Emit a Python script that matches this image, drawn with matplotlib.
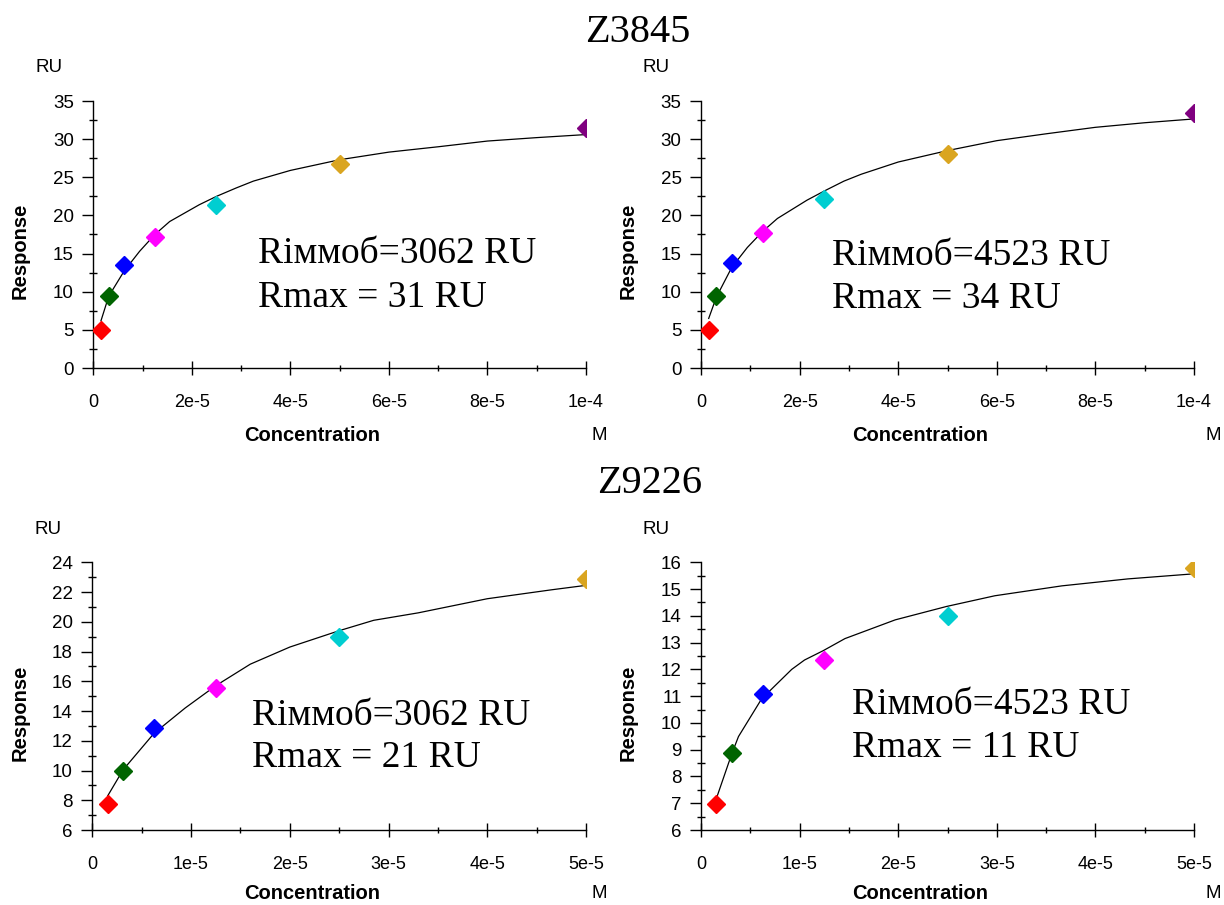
import matplotlib
matplotlib.use("Agg")
import matplotlib.pyplot as plt
from matplotlib.ticker import FixedLocator, FixedFormatter, MultipleLocator

# ---------------- data ----------------
conc_top = [1.5625e-6, 3.125e-6, 6.25e-6, 1.25e-5, 2.5e-5, 5e-5, 1e-4]
conc_bot = [1.5625e-6, 3.125e-6, 6.25e-6, 1.25e-5, 2.5e-5, 5e-5]

resp_tl = [5.0, 9.5, 13.5, 17.2, 21.4, 26.7, 31.45]
resp_tr = [5.0, 9.45, 13.8, 17.7, 22.15, 28.0, 33.4]
resp_bl = [7.73, 10.0, 12.85, 15.57, 18.95, 22.86]
resp_br = [6.96, 8.88, 11.07, 12.34, 14.0, 15.78]

fit_top_x = [1.5625e-6, 3.125e-6, 6.25e-6, 9.4e-6, 1.25e-5, 1.55e-5, 2.15e-5, 2.5e-5,
             2.9e-5, 3.25e-5, 4e-5, 5e-5, 6e-5, 7e-5, 8e-5, 9e-5, 1e-4]
fit_tl_y = [6.2, 9.4, 12.7, 15.3, 17.5, 19.2, 21.4, 22.5,
            23.6, 24.5, 25.9, 27.3, 28.3, 29.0, 29.75, 30.2, 30.6]
fit_tr_y = [6.5, 9.3, 13.2, 15.8, 17.9, 19.6, 22.0, 23.2,
            24.5, 25.4, 27.0, 28.5, 29.8, 30.7, 31.55, 32.15, 32.65]

fit_bl_x = [1.5625e-6, 3.125e-6, 6.25e-6, 9.4e-6, 1.25e-5, 1.6e-5, 2e-5, 2.5e-5,
            2.85e-5, 3.3e-5, 4e-5, 4.65e-5, 5e-5]
fit_bl_y = [8.3, 10.05, 12.5, 14.2, 15.7, 17.15, 18.3, 19.4,
            20.1, 20.6, 21.55, 22.15, 22.45]

fit_br_x = [1.5625e-6, 3.125e-6, 3.8e-6, 6.15e-6, 9.2e-6, 1.05e-5, 1.24e-5, 1.46e-5,
            1.97e-5, 2.49e-5, 2.98e-5, 3.66e-5, 4.33e-5, 5e-5]
fit_br_y = [7.18, 8.85, 9.49, 10.9, 12.0, 12.35, 12.7, 13.15,
            13.85, 14.35, 14.75, 15.12, 15.38, 15.57]

xticks_top = [0, 2e-5, 4e-5, 6e-5, 8e-5, 1e-4]
xticklabels_top = ["0", "2e-5", "4e-5", "6e-5", "8e-5", "1e-4"]
xticks_bot = [0, 1e-5, 2e-5, 3e-5, 4e-5, 5e-5]
xticklabels_bot = ["0", "1e-5", "2e-5", "3e-5", "4e-5", "5e-5"]

titles = ["Z3845", "Z9226"]
notes = [("Rіммоб=3062 RU", "Rmax = 31 RU"),
         ("Rіммоб=4523 RU", "Rmax = 34 RU"),
         ("Rіммоб=3062 RU", "Rmax = 21 RU"),
         ("Rіммоб=4523 RU", "Rmax = 11 RU")]

point_colors = ["#FF0000", "#006400", "#0000FF", "#FF00FF", "#00CED1", "#DAA520", "#800080"]

# ---------------- figure ----------------
W, H = 1224, 905
fig = plt.figure(figsize=(W / 100, H / 100), dpi=100)
SANS = "Liberation Sans"
SERIF = "Liberation Serif"


def fx(px):
    return px / W


def fy(py):
    return 1 - py / H


def make_ax(left, right, top, bottom):
    return fig.add_axes([fx(left), fy(bottom), (right - left) / W, (bottom - top) / H])


panels = [
    dict(rect=(93.3, 586, 101, 368), x=conc_top, y=resp_tl, fx_=fit_top_x, fy_=fit_tl_y,
         ylim=(0, 35), ymaj=5, ymin=2.5, xt=xticks_top, xtl=xticklabels_top, xmin=1e-5,
         xmax=1e-4, note=notes[0], npos=(0.335, 0.393, 0.228)),
    dict(rect=(701, 1194, 101, 368), x=conc_top, y=resp_tr, fx_=fit_top_x, fy_=fit_tr_y,
         ylim=(0, 35), ymaj=5, ymin=2.5, xt=xticks_top, xtl=xticklabels_top, xmin=1e-5,
         xmax=1e-4, note=notes[1], npos=(0.265, 0.386, 0.225)),
    dict(rect=(92.3, 586, 562.3, 830), x=conc_bot, y=resp_bl, fx_=fit_bl_x, fy_=fit_bl_y,
         ylim=(6, 24), ymaj=2, ymin=1, xt=xticks_bot, xtl=xticklabels_bot, xmin=0.5e-5,
         xmax=5e-5, note=notes[2], npos=(0.323, 0.392, 0.236)),
    dict(rect=(701, 1194, 562.3, 830), x=conc_bot, y=resp_br, fx_=fit_br_x, fy_=fit_br_y,
         ylim=(6, 16), ymaj=1, ymin=0.5, xt=xticks_bot, xtl=xticklabels_bot, xmin=0.5e-5,
         xmax=5e-5, note=notes[3], npos=(0.306, 0.432, 0.274)),
]

for p in panels:
    l, r, t, b = p["rect"]
    ax = make_ax(l, r, t, b)
    ax.plot(p["fx_"], p["fy_"], color="black", lw=0.9, zorder=2)
    for xi, yi, c in zip(p["x"], p["y"], point_colors):
        ax.plot([xi], [yi], marker="D", ms=9, color=c, mec=c, ls="none", zorder=3)
    ax.set_xlim(0, p["xmax"])
    ax.set_ylim(*p["ylim"])
    for s in ("top", "right"):
        ax.spines[s].set_visible(False)
    for s in ("left", "bottom"):
        ax.spines[s].set_linewidth(1.0)
    ax.xaxis.set_major_locator(FixedLocator(p["xt"]))
    ax.xaxis.set_major_formatter(FixedFormatter(p["xtl"]))
    ax.xaxis.set_minor_locator(MultipleLocator(p["xmin"]))
    ax.yaxis.set_major_locator(MultipleLocator(p["ymaj"]))
    ax.yaxis.set_minor_locator(MultipleLocator(p["ymin"]))
    ax.tick_params(axis="x", which="major", direction="inout", length=10, width=1.0,
                   pad=14, labelsize=13)
    ax.tick_params(axis="x", which="minor", direction="inout", length=5, width=1.0)
    ax.tick_params(axis="y", which="major", direction="out", length=8, width=1.0,
                   pad=6, labelsize=13.5)
    ax.tick_params(axis="y", which="minor", direction="inout", length=5.5, width=1.0)
    for lab in ax.get_xticklabels() + ax.get_yticklabels():
        lab.set_fontfamily(SANS)
    nx, ny1, ny2 = p["npos"]
    ax.text(nx, ny1, p["note"][0], transform=ax.transAxes, fontsize=27,
            family=SERIF, ha="left", va="baseline")
    ax.text(nx, ny2, p["note"][1], transform=ax.transAxes, fontsize=27,
            family=SERIF, ha="left", va="baseline")

# axis labels placed around panels
for (rux, ruy), (rx, ry), (cx, cy), (mx, my) in [
    ((49, 67), (20, 251), (312, 435), (599, 435)),
    ((656, 67), (628, 251), (920, 435), (1213, 435)),
    ((48, 529), (20, 713), (312, 893), (599, 893)),
    ((656, 529), (628, 713), (920, 893), (1213, 893)),
]:
    fig.text(fx(rux), fy(ruy), "RU", fontsize=13.5, family=SANS, ha="center", va="center")
    fig.text(fx(rx), fy(ry), "Response", fontsize=14.5, family=SANS, weight="bold",
             rotation=90, ha="center", va="center")
    fig.text(fx(cx), fy(cy), "Concentration", fontsize=14.5, family=SANS, weight="bold",
             ha="center", va="center")
    fig.text(fx(mx), fy(my), "M", fontsize=13.5, family=SANS, ha="center", va="center")

fig.text(fx(638), fy(32), titles[0], fontsize=29, family=SERIF, ha="center", va="center")
fig.text(fx(650), fy(483), titles[1], fontsize=29, family=SERIF, ha="center", va="center")

fig.savefig("out.png", dpi=100)
